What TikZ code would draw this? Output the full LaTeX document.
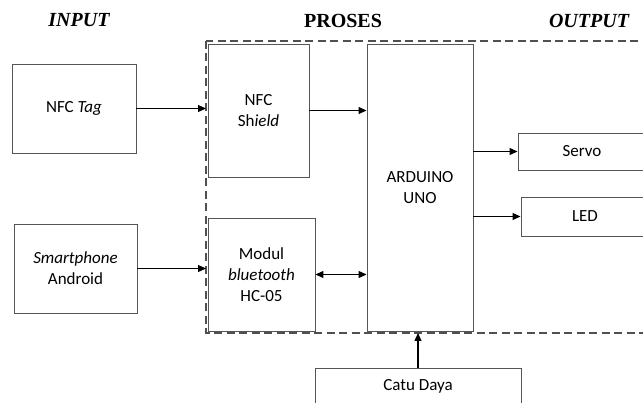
\documentclass[tikz,border=0pt]{standalone}
\usepackage{fontspec}
\usepackage{tikz}
\usetikzlibrary{arrows.meta,calc,positioning}
\newfontfamily\boxfont{Carlito}
\newfontfamily\headfont{Liberation Serif}
\definecolor{boxline}{HTML}{555555}
\definecolor{frameline}{HTML}{505050}
\tikzset{blok/.style={draw=boxline,line width=0.9pt,align=center,inner sep=0pt,font=\boxfont\fontsize{17}{21}\selectfont},
  head/.style={font=\headfont\bfseries\fontsize{20}{24}\selectfont},
  panah/.style={->,line width=1.1pt}}

\begin{document}
\begin{tikzpicture}[x=1pt,y=-1pt,>={Triangle[length=8pt,width=7pt]}]
\useasboundingbox (0,0) rectangle (643,403);
% headers
\node[head] (hin) at (79,20.5) {\itshape INPUT};
\node[head] (hpro) at (343,20.5) {PROSES};
\node[head] (hout) at (589,20.5) {\itshape OUTPUT};
% process frame
\draw[frameline,dashed,line width=1.6pt,dash pattern=on 8pt off 4.5pt] (206,41) rectangle (680,333);
% input blocks
\node[blok,minimum width=124pt,minimum height=89pt] (tag) at (74,108.5) {NFC \textit{Tag}};
\node[blok,minimum width=123pt,minimum height=89pt] (hp) at (75.5,268.5) {\textit{Smartphone}\\Android};
% process blocks
\node[blok,minimum width=101pt,minimum height=133pt] (shield) at (258.5,110.5) {NFC\\Sh\textit{ield}};
\node[blok,minimum width=107pt,minimum height=113pt] (bt) at (261.5,274.5) {Modul\\\textit{bluetooth}\\HC-05};
\node[blok,minimum width=106pt,minimum height=287pt] (uno) at (420,187.5) {ARDUINO\\UNO};
% output blocks
\node[blok,minimum width=128pt,minimum height=37pt] (servo) at (582,151.5) {Servo};
\node[blok,minimum width=128pt,minimum height=39pt] (led) at (585,216.5) {LED};
% power
\node[blok,minimum width=206pt,minimum height=36pt] (catu) at (418,386) {Catu Daya};
% connections
\draw[panah] (tag.east) -- (tag.east -| 206,0);
\draw[panah] (shield.east) -- (shield.east -| uno.west);
\draw[panah] (hp.east) -- (hp.east -| 206,0);
\draw[<->,line width=1.1pt] (bt.east) -- (bt.east -| uno.west);
\draw[panah] (servo.west -| uno.east) -- (servo.west);
\draw[panah] (led.west -| uno.east) -- (led.west);
\draw[panah] (catu.north) -- (catu.north |- 0,333);
\end{tikzpicture}
\end{document}
